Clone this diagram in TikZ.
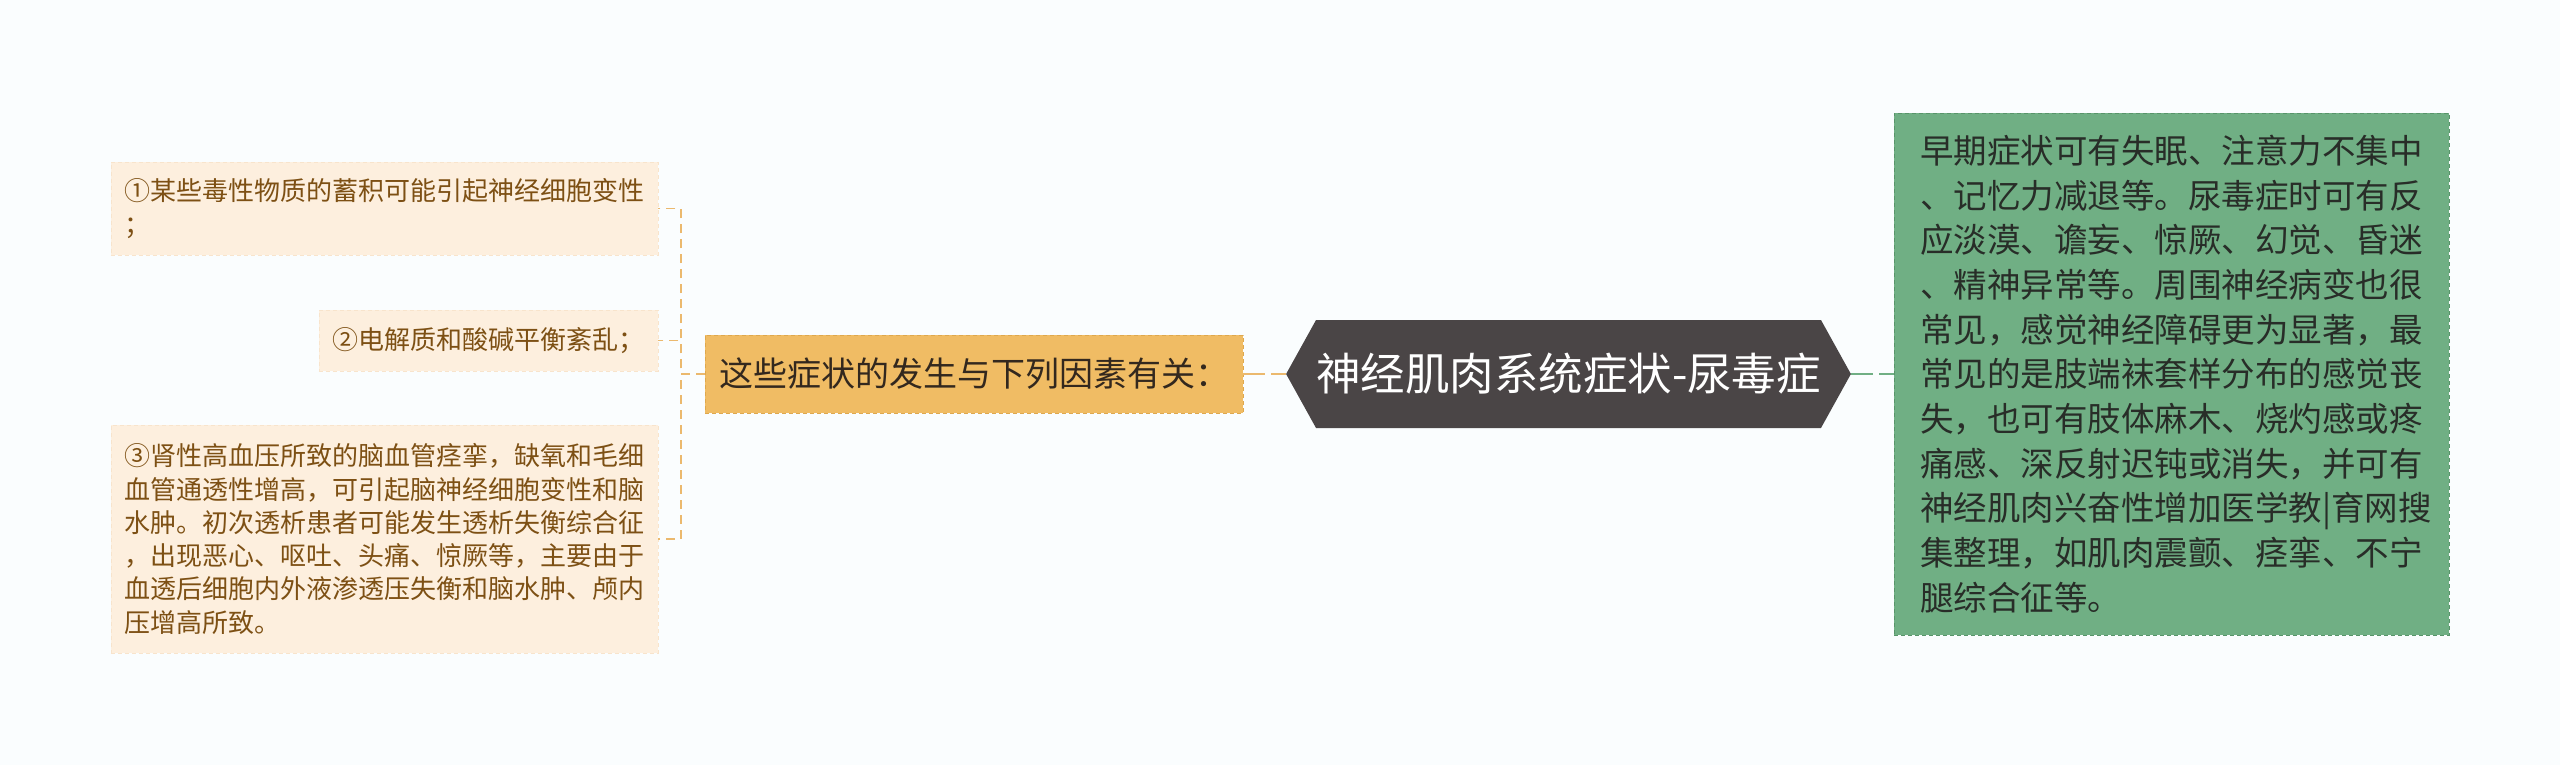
\documentclass[tikz,border=0pt]{standalone}
\usepackage{fontspec}
\setmainfont{Noto Sans CJK SC}
\usetikzlibrary{shapes.symbols}

\definecolor{pagebg}{RGB}{250,253,254}
\definecolor{leaffill}{RGB}{253,239,222}
\definecolor{leafedge}{RGB}{248,228,204}
\definecolor{leaftext}{RGB}{125,80,20}
\definecolor{midfill}{RGB}{240,188,100}
\definecolor{midedge}{RGB}{222,168,78}
\definecolor{midtext}{RGB}{51,40,30}
\definecolor{rootfill}{RGB}{74,69,70}
\definecolor{notefill}{RGB}{112,175,132}
\definecolor{noteedge}{RGB}{88,148,106}
\definecolor{notetext}{RGB}{40,45,40}
\definecolor{orline}{RGB}{235,185,110}
\definecolor{grline}{RGB}{112,175,132}

\begin{document}
\begin{tikzpicture}[x=1pt,y=-1pt,
  leaf/.style={anchor=east,fill=leaffill,draw=leafedge,dash pattern=on 4pt off 3pt,
    align=left,text=leaftext,font=\fontsize{26}{33.3}\selectfont,inner xsep=13.5pt},
  factor/.style={fill=midfill,draw=midedge,dash pattern=on 4pt off 3pt,text=midtext,
    font=\fontsize{34}{40}\selectfont,minimum width=538pt,minimum height=78pt},
  topic/.style={signal,signal to=east and west,signal pointer angle=122,fill=rootfill,
    text=white,font=\fontsize{44.5}{50}\selectfont,inner xsep=0pt,
    minimum width=557pt,minimum height=108pt},
  note/.style={anchor=west,fill=notefill,draw=noteedge,dash pattern=on 4pt off 3pt,
    align=left,text width=503pt,text=notetext,font=\fontsize{33.5}{44.7}\selectfont,
    inner xsep=26pt,minimum height=522pt},
  bracket/.style={draw=orline,line width=1.6pt,dash pattern=on 9pt off 6pt}]

  \fill[pagebg] (0,0) rectangle (2560,765);
  \useasboundingbox (0,0) rectangle (2560,765);

  \node[leaf,minimum height=93pt] (poison) at (658,208.5)
    {①某些毒性物质的蓄积可能引起神经细胞变性\\；};
  \node[leaf,minimum height=61pt] (salt) at (658,340.5)
    {②电解质和酸碱平衡紊乱；};
  \node[leaf,minimum height=228pt] (vessel) at (658,539)
    {③肾性高血压所致的脑血管痉挛，缺氧和毛细\\
     血管通透性增高，可引起脑神经细胞变性和脑\\
     水肿。初次透析患者可能发生透析失衡综合征\\
     ，出现恶心、呕吐、头痛、惊厥等，主要由于\\
     血透后细胞内外液渗透压失衡和脑水肿、颅内\\
     压增高所致。};

  \node[factor] (factor) at (974,374) {这些症状的发生与下列因素有关：};
  \node[topic] (topic) at (1568.5,374) {神经肌肉系统症状-尿毒症};
  \node[note] (early) at (1894,374)
    {早期症状可有失眠、注意力不集中\\
     、记忆力减退等。尿毒症时可有反\\
     应淡漠、谵妄、惊厥、幻觉、昏迷\\
     、精神异常等。周围神经病变也很\\
     常见，感觉神经障碍更为显著，最\\
     常见的是肢端袜套样分布的感觉丧\\
     失，也可有肢体麻木、烧灼感或疼\\
     痛感、深反射迟钝或消失，并可有\\
     神经肌肉兴奋性增加医学教|育网搜\\
     集整理，如肌肉震颤、痉挛、不宁\\
     腿综合征等。};

  \draw[bracket] (factor.west) -- ++(-24,0) |- (poison.east);
  \draw[bracket] (factor.west) -- ++(-24,0) |- (salt.east);
  \draw[bracket] (factor.west) -- ++(-24,0) |- (vessel.east);
  \draw[draw=orline,line width=2.5pt,dash pattern=on 22pt off 6pt] (factor.east) -- (topic.west);
  \draw[draw=grline,line width=2.5pt,dash pattern=on 22pt off 6pt] (topic.east) -- (early.west);
\end{tikzpicture}
\end{document}
